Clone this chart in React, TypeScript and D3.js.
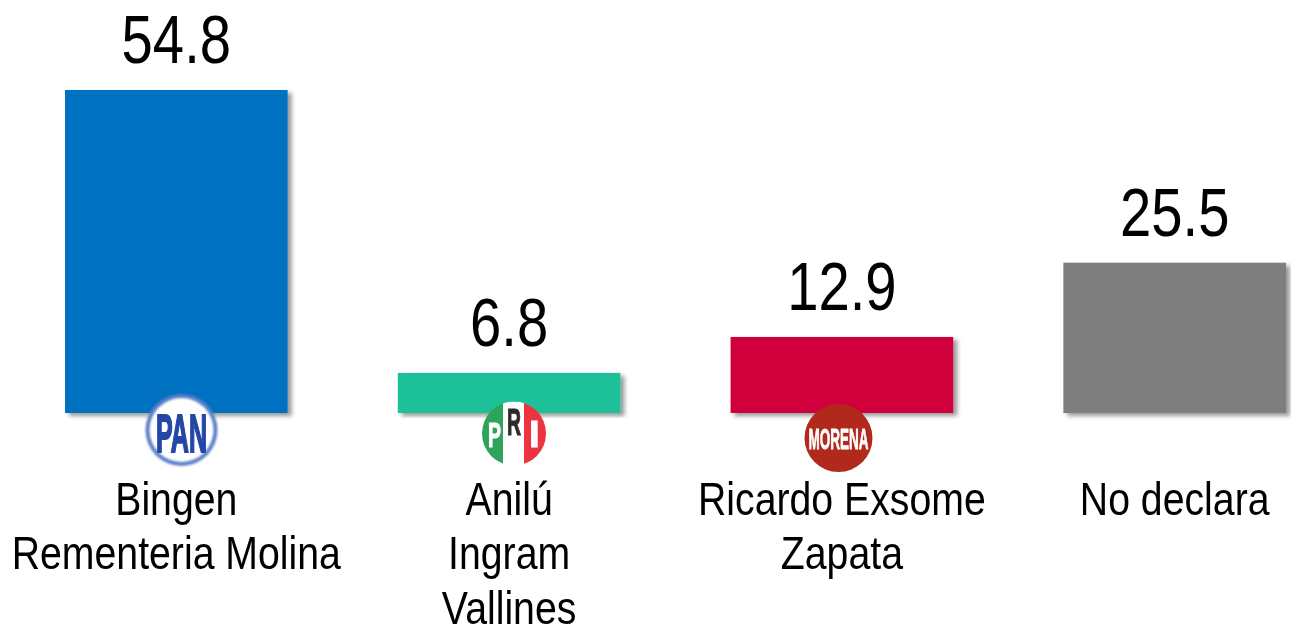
import React from 'react';
import { scaleBand, scaleLinear } from 'd3';

const categories = ['Bingen|Rementeria Molina', 'Anilú|Ingram|Vallines', 'Ricardo Exsome|Zapata', 'No declara'];
const values = [54.8, 6.8, 12.9, 25.5];
const barColors = ['#0070c0', '#1cc19a', '#d0003c', '#7f7f7f'];

const width = 1291;
const height = 627;
const baseline = 413;
const font = '"Liberation Sans", Arial, sans-serif';

const x = scaleBand<string>().domain(categories).range([65, 1286]).paddingInner(0.331).paddingOuter(0);
const y = scaleLinear().domain([0, 54.8]).range([baseline, 90]);

// narrow look: no Arial Narrow here, so squeeze Liberation Sans sideways
const valueSqueeze = 0.815;
const labelSqueeze = 0.835;

const PanLogo = () => (
  <g transform="translate(181.5,430)">
    <circle r={36} fill="#5b7fc8" filter="url(#soft)" />
    <circle r={32} fill="#fff" filter="url(#soft)" />
    <text y={22} textAnchor="middle" fontFamily={font} fontWeight="bold" fontSize={54} fill="#2347a6" stroke="#2347a6" strokeWidth={2} textLength={51} lengthAdjust="spacingAndGlyphs">PAN</text>
  </g>
);

const PriLogo = () => (
  <g transform="translate(514,433.5)">
    <clipPath id="priClip"><circle r={32} /></clipPath>
    <g clipPath="url(#priClip)">
      <rect x={-32} y={-32} width={21} height={64} fill="#2fa35a" />
      <rect x={-11} y={-32} width={21} height={64} fill="#fff" />
      <rect x={10} y={-32} width={22} height={64} fill="#ee3340" />
    </g>
    <g fontFamily={font} fontWeight="bold" textAnchor="middle" strokeWidth={1.2}>
      <text x={-19.5} y={13.5} fontSize={35} fill="#fff" stroke="#fff" textLength={13} lengthAdjust="spacingAndGlyphs">P</text>
      <text x={0} y={1.5} fontSize={37} fill="#2b2b2b" stroke="#2b2b2b" textLength={14} lengthAdjust="spacingAndGlyphs">R</text>
      <text x={20.5} y={13.5} fontSize={37} fill="#fff" stroke="#fff">I</text>
    </g>
  </g>
);

const MorenaLogo = () => (
  <g transform="translate(838.5,438)">
    <circle r={34} fill="#b0291b" />
    <text y={11} textAnchor="middle" fontFamily={font} fontWeight="bold" fontSize={29} fill="#fff" stroke="#fff" strokeWidth={0.8} textLength={60} lengthAdjust="spacingAndGlyphs">MORENA</text>
  </g>
);

const logos = [<PanLogo key="pan" />, <PriLogo key="pri" />, <MorenaLogo key="morena" />];

const App = () => {
  return (
    <svg width={width} height={height} style={{ position: 'fixed', left: 0, top: 0, display: 'block' }}>
      <defs>
        <filter id="shadow" x="-5%" y="-5%" width="115%" height="115%">
          <feDropShadow dx={4} dy={3} stdDeviation={2.2} floodColor="#000" floodOpacity={0.4} />
        </filter>
        <filter id="soft" x="-10%" y="-10%" width="120%" height="120%">
          <feGaussianBlur stdDeviation={1.2} />
        </filter>
      </defs>
      {categories.map((c, i) => (
        <rect
          key={c}
          x={x(c)}
          y={y(values[i])}
          width={x.bandwidth()}
          height={baseline - y(values[i])}
          fill={barColors[i]}
          filter="url(#shadow)"
        />
      ))}
      {categories.map((c, i) => (
        <text
          key={c}
          transform={`translate(${x(c)! + x.bandwidth() / 2},${y(values[i]) - 27}) scale(${valueSqueeze},1)`}
          textAnchor="middle"
          fontFamily={font}
          fontSize={69}
          fill="#000"
        >
          {values[i]}
        </text>
      ))}
      {logos}
      {categories.map((c, i) => (
        <text
          key={c}
          transform={`translate(${x(c)! + x.bandwidth() / 2},514.5) scale(${labelSqueeze},1)`}
          textAnchor="middle"
          fontFamily={font}
          fontSize={47}
          fill="#000"
        >
          {c.split('|').map((line, j) => (
            <tspan key={line} x={0} y={j * 55}>
              {line}
            </tspan>
          ))}
        </text>
      ))}
    </svg>
  );
};

export default App;
